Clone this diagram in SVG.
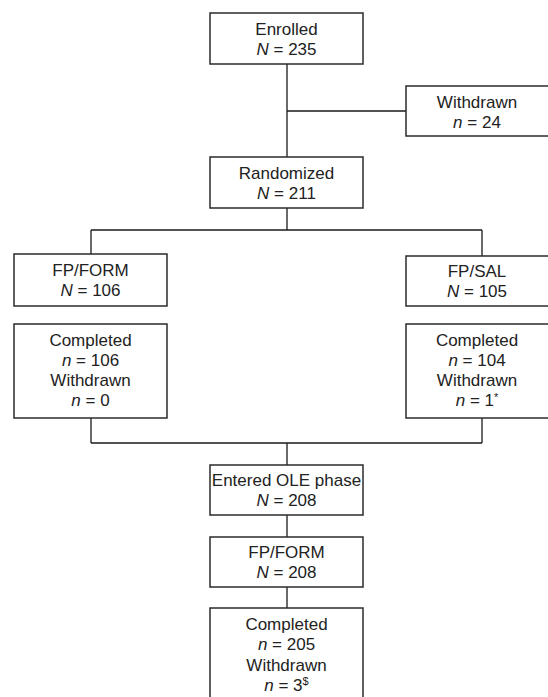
<svg xmlns="http://www.w3.org/2000/svg" width="548" height="697" viewBox="0 0 548 697">
<style>
.box{fill:#fff;stroke:#2b2b2b;stroke-width:1.5}
.ln{fill:none;stroke:#1a1a1a;stroke-width:1.3}
text{font-family:"Liberation Sans",Arial,sans-serif;font-size:17px;fill:#222;text-anchor:middle}
.i{font-style:italic}
.sup{font-size:11px}
</style>
<rect width="548" height="697" fill="#fff"/>
<g id="connectors">
<path class="ln" d="M287 64V157M287 111H406"/>
<path class="ln" d="M287 208V230M91 230H482M91 230V254M482 230V256"/>
<path class="ln" d="M91 418V443M482 418V443M91 443H482M287 443V465"/>
<path class="ln" d="M287 515V537M287 587V608"/>
</g>
<g id="enrolled"><rect class="box" x="210" y="13" width="153" height="51"/><text x="286.5" y="35">Enrolled</text><text x="286.5" y="55"><tspan class="i">N</tspan> = 235</text></g>
<g id="withdrawn"><rect class="box" x="406" y="86" width="160" height="50"/><text x="477" y="108">Withdrawn</text><text x="477" y="128"><tspan class="i">n</tspan> = 24</text></g>
<g id="randomized"><rect class="box" x="210" y="157" width="153" height="51"/><text x="286.5" y="179">Randomized</text><text x="286.5" y="199"><tspan class="i">N</tspan> = 211</text></g>
<g id="fpform1"><rect class="box" x="14" y="254" width="153" height="52"/><text x="90.5" y="276">FP/FORM</text><text x="90.5" y="296"><tspan class="i">N</tspan> = 106</text></g>
<g id="fpsal"><rect class="box" x="406" y="256" width="160" height="50"/><text x="477" y="277">FP/SAL</text><text x="477" y="297"><tspan class="i">N</tspan> = 105</text></g>
<g id="completed1"><rect class="box" x="14" y="324" width="153" height="94"/><text x="90.5" y="346">Completed</text><text x="90.5" y="366"><tspan class="i">n</tspan> = 106</text><text x="90.5" y="386">Withdrawn</text><text x="90.5" y="406"><tspan class="i">n</tspan> = 0</text></g>
<g id="completed2"><rect class="box" x="406" y="324" width="160" height="94"/><text x="477" y="346">Completed</text><text x="477" y="366"><tspan class="i">n</tspan> = 104</text><text x="477" y="386">Withdrawn</text><text x="477" y="406"><tspan class="i">n</tspan> = 1<tspan class="sup" dy="-5">*</tspan></text></g>
<g id="ole"><rect class="box" x="210" y="465" width="153" height="50"/><text x="286.5" y="486">Entered OLE phase</text><text x="286.5" y="506"><tspan class="i">N</tspan> = 208</text></g>
<g id="fpform2"><rect class="box" x="210" y="537" width="153" height="50"/><text x="286.5" y="558">FP/FORM</text><text x="286.5" y="578"><tspan class="i">N</tspan> = 208</text></g>
<g id="completed3"><rect class="box" x="210" y="608" width="153" height="100"/><text x="286.5" y="630">Completed</text><text x="286.5" y="650"><tspan class="i">n</tspan> = 205</text><text x="286.5" y="671">Withdrawn</text><text x="286.5" y="691"><tspan class="i">n</tspan> = 3<tspan class="sup" dy="-6">$</tspan></text></g>
</svg>
